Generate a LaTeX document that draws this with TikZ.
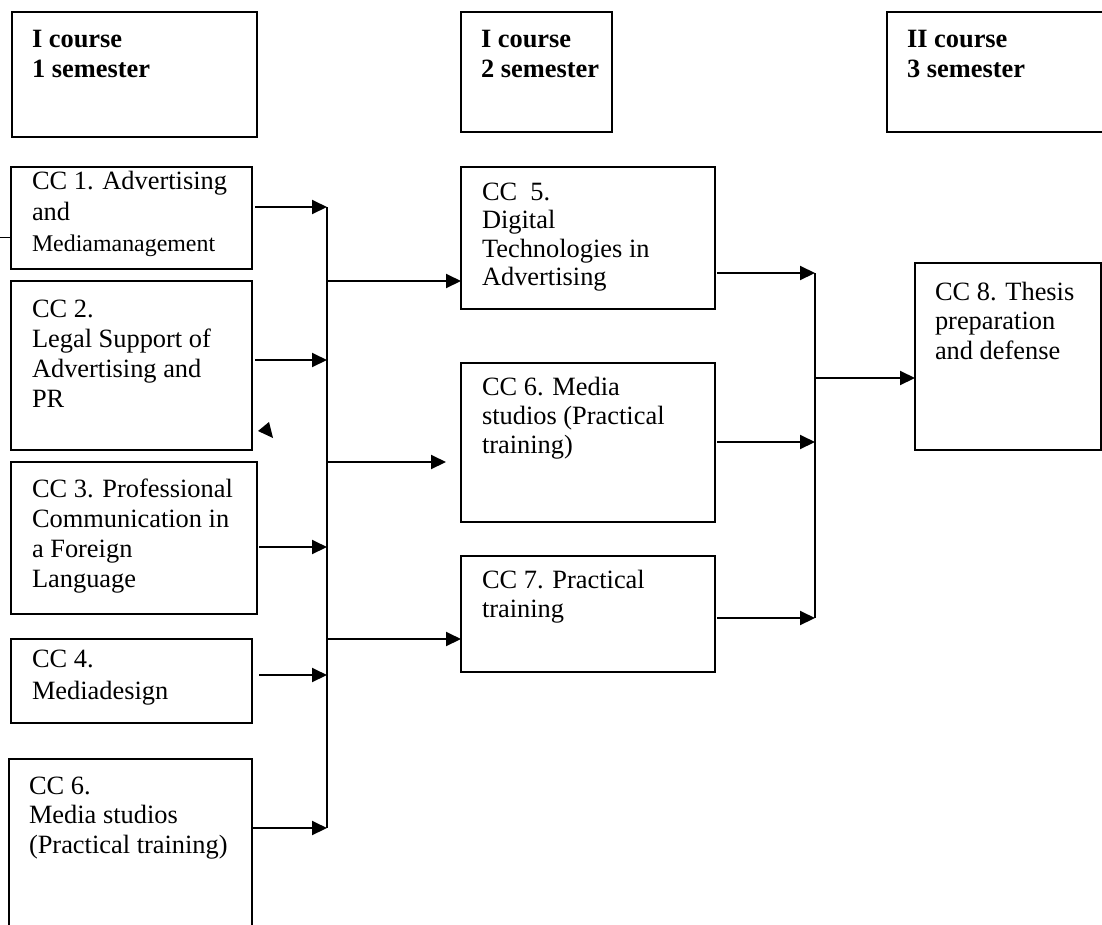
\documentclass[tikz,border=0pt]{standalone}
\usepackage{fontspec}
\setmainfont{Liberation Serif}
\usetikzlibrary{arrows.meta,calc}
\newcommand\fs[1]{\fontsize{26.4}{#1}\selectfont}
\newcommand\tstrut{\rule{0pt}{21pt}}
\begin{document}
\begin{tikzpicture}[x=1pt,y=-1pt,
  bx/.style={draw, line width=1.3pt, rectangle, anchor=north west, inner sep=0pt, outer sep=0pt},
  txt/.style={anchor=north west, inner sep=0pt, outer sep=0pt, align=left},
  arr/.style={line width=2pt, -{Triangle[length=15pt,width=14pt]}},
  ln/.style={line width=2pt}]
\fill[white] (0,0) rectangle (1102,924);
\useasboundingbox (0,0) rectangle (1102,924);

% headers
\node[bx, minimum width=245pt, minimum height=125pt] (h1) at (12,12) {};
\node[txt, font={\fs{30}\bfseries}] (h1t) at (32,26) {\tstrut I course\\1 semester};
\node[bx, minimum width=151pt, minimum height=120pt] (h2) at (461,12) {};
\node[txt, font={\fs{30}\bfseries}] (h2t) at (481,26) {\tstrut I course\\2 semester};
\node[bx, minimum width=230pt, minimum height=120pt] (h3) at (887,12) {};
\node[txt, font={\fs{30}\bfseries}] (h3t) at (907,26) {\tstrut II course\\3 semester};

% left column
\node[bx, minimum width=241pt, minimum height=102pt] (cc1) at (11,167) {};
\node[txt, font={\fs{31}}] (cc1t) at (32,168) {\tstrut CC 1. Advertising\\and\\{\fontsize{23.9}{28}\selectfont Mediamanagement}};
\node[bx, minimum width=241pt, minimum height=169pt] (cc2) at (11,281) {};
\node[txt, font={\fs{30}}] (cc2t) at (32,296) {\tstrut CC 2.\\Legal Support of\\Advertising and\\PR};
\node[bx, minimum width=246pt, minimum height=152pt] (cc3) at (11,462) {};
\node[txt, font={\fs{30}}] (cc3t) at (32,476) {\tstrut CC 3. Professional\\Communication in\\a Foreign\\Language};
\node[bx, minimum width=241pt, minimum height=84pt] (cc4) at (11,639) {};
\node[txt, font={\fs{32}}] (cc4t) at (32,646) {\tstrut CC 4.\\Mediadesign};
\node[bx, minimum width=243pt, minimum height=180pt] (cc6l) at (9,759) {};
\node[txt, font={\fs{29.5}}] (cc6lt) at (29,773) {\tstrut CC 6.\\Media studios\\(Practical training)};

% middle column
\node[bx, minimum width=254pt, minimum height=142pt] (cc5) at (461,167) {};
\node[txt, font={\fs{28.5}}] (cc5t) at (482,179) {\tstrut CC\ \ 5.\\Digital\\Technologies in\\Advertising};
\node[bx, minimum width=254pt, minimum height=159pt] (cc6m) at (461,363) {};
\node[txt, font={\fs{29}}] (cc6mt) at (482,374) {\tstrut CC 6. Media\\studios (Practical\\training)};
\node[bx, minimum width=254pt, minimum height=116pt] (cc7) at (461,556) {};
\node[txt, font={\fs{29}}] (cc7t) at (482,567) {\tstrut CC 7. Practical\\training};

% right
\node[bx, minimum width=186pt, minimum height=187pt] (cc8) at (915,263) {};
\node[txt, font={\fs{29.5}}] (cc8t) at (935,279) {\tstrut CC 8. Thesis\\preparation\\and defense};

% junction coordinates
\coordinate (l1) at (327,207);
\coordinate (l2) at (327,360);
\coordinate (l3) at (327,547);
\coordinate (l4) at (327,675);
\coordinate (l5) at (327,828);
\coordinate (m1) at (327,281);
\coordinate (m2) at (327,462);
\coordinate (m3) at (327,639);
\coordinate (r1) at (815,273);
\coordinate (r2) at (815,442);
\coordinate (r3) at (815,618);
\coordinate (r0) at (815,378);
\coordinate (sl) at (0,237);

% left arrows into bus
\draw[arr] ($(cc1.east |- l1)+(3,0)$) -- (l1);
\draw[arr] ($(cc2.east |- l2)+(3,0)$) -- (l2);
\draw[arr] ($(cc3.east |- l3)+(2,0)$) -- (l3);
\draw[arr] ($(cc4.east |- l4)+(7,0)$) -- (l4);
\draw[arr] (cc6l.east |- l5) -- (l5);
\draw[ln] (l1) -- (l5);

% bus to middle
\draw[arr] (m1) -- (m1 -| cc5.west);
\draw[arr] (m2) -- ($(m2 -| cc6m.west)+(-15,0)$);
\draw[arr] (m3) -- (m3 -| cc7.west);

% middle to right bus
\draw[arr] ($(cc5.east |- r1)+(2,0)$) -- (r1);
\draw[arr] ($(cc6m.east |- r2)+(2,0)$) -- (r2);
\draw[arr] ($(cc7.east |- r3)+(2,0)$) -- (r3);
\draw[ln] (r1) -- (r3);
\draw[arr] (r0) -- (r0 -| cc8.west);

% stray marks
\draw[line width=1pt] (sl) -- (sl -| cc1.west);
\fill (258,431) -- (269,422) -- (273,438) -- cycle;
\end{tikzpicture}
\end{document}
